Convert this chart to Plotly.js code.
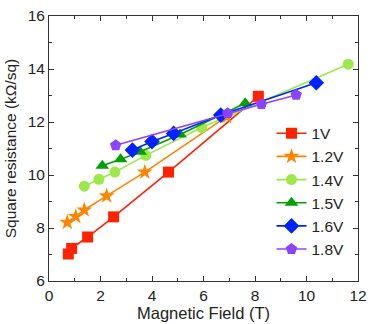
<!DOCTYPE html>
<html><head><meta charset="utf-8">
<script src="https://cdn.plot.ly/plotly-3.0.1.min.js"></script>
<style>html,body{margin:0;padding:0;background:#fff}#chart{width:374px;height:324px}</style>
</head><body><div id="chart"></div>
<script>
const seriesNames = ["1V", "1.2V", "1.4V", "1.5V", "1.6V", "1.8V"];
const x1V = [0.75, 0.88, 1.50, 2.51, 4.64, 8.13];
const y1V = [7.02, 7.23, 7.66, 8.42, 10.11, 12.97];
const x12V = [0.71, 1.04, 1.37, 2.24, 3.72, 6.90];
const y12V = [8.21, 8.43, 8.68, 9.21, 10.11, 12.20];
const x14V = [1.37, 1.94, 2.56, 3.76, 5.93, 11.62];
const y14V = [9.58, 9.84, 10.11, 10.74, 11.79, 14.18];
const x15V = [2.07, 2.78, 3.54, 5.09, 7.62];
const y15V = [10.35, 10.59, 10.88, 11.53, 12.71];
const x16V = [3.24, 4.00, 4.84, 6.67, 10.38];
const y16V = [10.94, 11.26, 11.57, 12.26, 13.48];
const x18V = [2.59, 6.94, 8.25, 9.60];
const y18V = [11.12, 12.33, 12.67, 13.02];

const colors = ["#ff2200", "#ff8400", "#9de84a", "#00a000", "#0022ff", "#8a44ff"];
const symbols = ["square", "star", "circle", "triangle-up", "diamond", "pentagon"];
const sizes = [11, 12, 11, 12, 12, 12];
const xs = [x1V, x12V, x14V, x15V, x16V, x18V];
const ys = [y1V, y12V, y14V, y15V, y16V, y18V];

const traces = seriesNames.map((n, i) => ({
  x: xs[i], y: ys[i], name: n, type: 'scatter', mode: 'lines+markers',
  line: {color: colors[i], width: 1.6},
  marker: {symbol: symbols[i], size: sizes[i], color: colors[i]}
}));

const fam = 'Liberation Sans, Arial, sans-serif';
const tickFont = {family: fam, size: 15.5, color: '#222'};
const layout = {
  width: 374, height: 324,
  margin: {l: 49, r: 16, t: 16, b: 43},
  paper_bgcolor: '#fff', plot_bgcolor: '#fff',
  font: tickFont,
  showlegend: true,
  legend: {x: 0.72, y: 0.62, xanchor: 'left', yanchor: 'top', bgcolor: 'rgba(0,0,0,0)',
    font: {family: fam, size: 15.5, color: '#222'},
    tracegroupgap: 0, itemwidth: 30},
  xaxis: {
    range: [0, 12], dtick: 2, showgrid: false, zeroline: false,
    showline: true, linecolor: '#333', linewidth: 1, mirror: 'ticks',
    ticks: 'inside', ticklen: 5, tickcolor: '#333',
    minor: {ticks: 'inside', dtick: 1, ticklen: 3, tickcolor: '#333'},
    tickfont: tickFont,
    title: {text: 'Magnetic Field (T)', font: {family: fam, size: 16.5, color: '#222'}, standoff: 1}
  },
  yaxis: {
    range: [6, 16], dtick: 2, showgrid: false, zeroline: false,
    showline: true, linecolor: '#333', linewidth: 1, mirror: 'ticks',
    ticks: 'inside', ticklen: 5, tickcolor: '#333',
    minor: {ticks: 'inside', dtick: 1, ticklen: 3, tickcolor: '#333'},
    tickfont: tickFont,
    title: {text: 'Square resistance (kΩ/sq)', font: {family: fam, size: 15.5, color: '#222'}, standoff: 7}
  }
};
Plotly.newPlot('chart', traces, layout, {displayModeBar: false, staticPlot: true});
</script></body></html>
